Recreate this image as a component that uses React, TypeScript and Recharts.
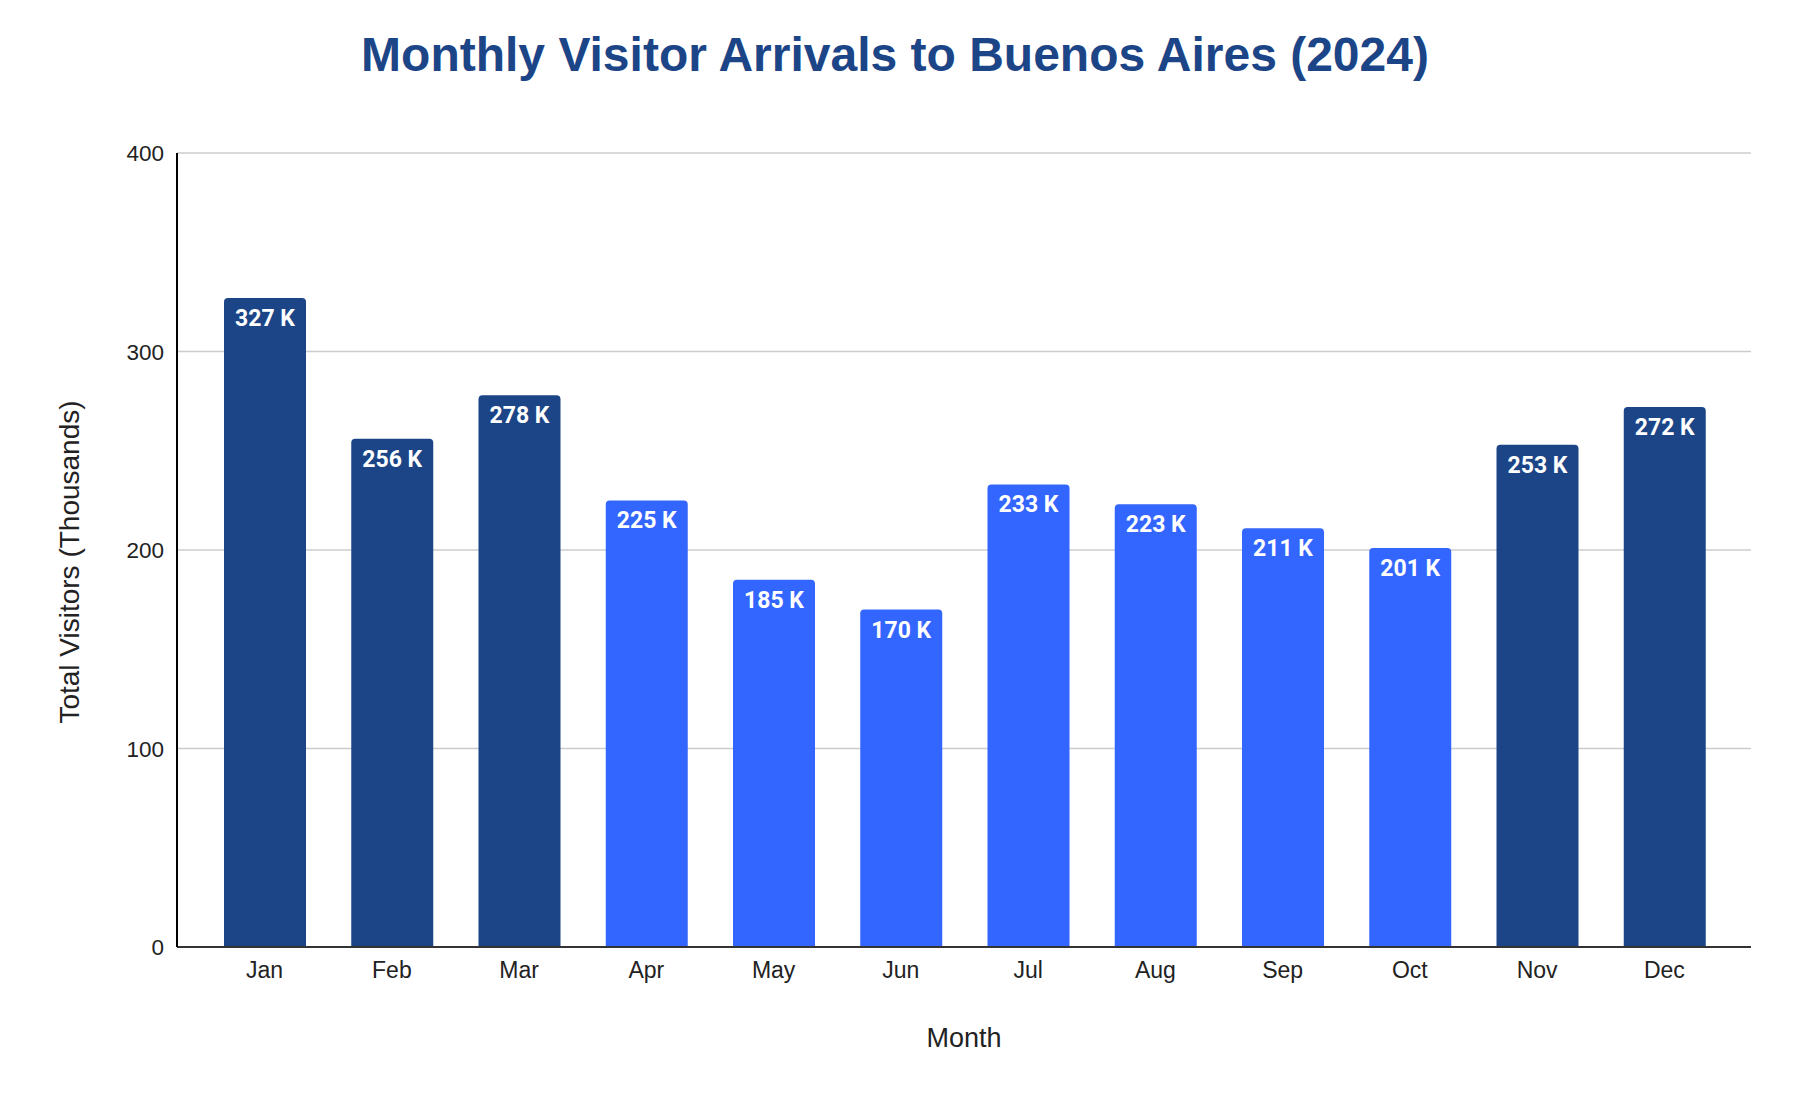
import React from 'react';
import {
  BarChart,
  Bar,
  XAxis,
  YAxis,
  CartesianGrid,
  Cell,
  LabelList,
} from 'recharts';

const months = ['Jan', 'Feb', 'Mar', 'Apr', 'May', 'Jun', 'Jul', 'Aug', 'Sep', 'Oct', 'Nov', 'Dec'];
const visitors = [327, 256, 278, 225, 185, 170, 233, 223, 211, 201, 253, 272];
// peak season months get the dark blue
const peakSeason = [true, true, true, false, false, false, false, false, false, false, true, true];
const yTicks = [0, 100, 200, 300, 400];

const DARK = '#1c4587';
const BRIGHT = '#3366ff';
const SANS = '"Liberation Sans", Arial, sans-serif';

const chartData = months.map((m, i) => ({
  month: m,
  visitors: visitors[i],
  peak: peakSeason[i],
}));

function XTick({ x, y, payload }: any) {
  return (
    <text x={x} y={y + 31} textAnchor="middle" fontSize={23} fontFamily={SANS} fill="#222">
      {payload.value}
    </text>
  );
}

function YTick({ x, y, payload }: any) {
  return (
    <text x={x - 13} y={y} dy="0.36em" textAnchor="end" fontSize={22.5} fontFamily={SANS} fill="#222">
      {payload.value}
    </text>
  );
}

function BarValue({ x, y, width, value }: any) {
  return (
    <text
      x={x + width / 2}
      y={y + 28}
      textAnchor="middle"
      fontSize={23}
      fontWeight={700}
      fontFamily="Roboto, sans-serif"
      fill="#fff"
    >
      {`${value} K`}
    </text>
  );
}

function YTitle() {
  return (
    <text
      transform="translate(69, 562) rotate(-90)"
      textAnchor="middle"
      dominantBaseline="central"
      fontSize={28}
      fontFamily={SANS}
      fill="#222"
    >
      Total Visitors (Thousands)
    </text>
  );
}

function XTitle({ viewBox }: any) {
  const { x, width } = viewBox;
  return (
    <text x={x + width / 2} y={1047} textAnchor="middle" fontSize={27} fontFamily={SANS} fill="#222">
      Month
    </text>
  );
}

export default function App() {
  return (
    <div style={{ position: 'absolute', left: 0, top: 0, width: 1806, height: 1108, background: '#fff' }}>
      <div
        style={{
          position: 'absolute',
          top: 31,
          left: -8,
          width: 1806,
          textAlign: 'center',
          fontFamily: SANS,
          fontWeight: 700,
          fontSize: 48,
          lineHeight: '48px',
          color: DARK,
        }}
      >
        Monthly Visitor Arrivals to Buenos Aires (2024)
      </div>
      <BarChart
        width={1806}
        height={1108}
        data={chartData}
        margin={{ top: 153, right: 55, bottom: 0, left: 0 }}
      >
        <CartesianGrid horizontal vertical={false} stroke="#cccccc" strokeWidth={1.5} />
        <XAxis
          dataKey="month"
          height={161}
          padding={{ left: 24, right: 23 }}
          tickLine={false}
          tickSize={0}
          tickMargin={0}
          axisLine={{ stroke: '#333', strokeWidth: 2 }}
          tick={<XTick />}
          interval={0}
          label={{ content: <XTitle /> }}
        />
        <YAxis
          width={177}
          domain={[0, 400]}
          ticks={yTicks}
          tickLine={false}
          tickSize={0}
          tickMargin={0}
          axisLine={{ stroke: '#000', strokeWidth: 2 }}
          tick={<YTick />}
          label={{ content: <YTitle /> }}
        />
        <Bar dataKey="visitors" barSize={82} radius={[4, 4, 0, 0]} isAnimationActive={false}>
          {chartData.map((d) => (
            <Cell key={d.month} fill={d.peak ? DARK : BRIGHT} />
          ))}
          <LabelList dataKey="visitors" content={<BarValue />} />
        </Bar>
      </BarChart>
    </div>
  );
}
